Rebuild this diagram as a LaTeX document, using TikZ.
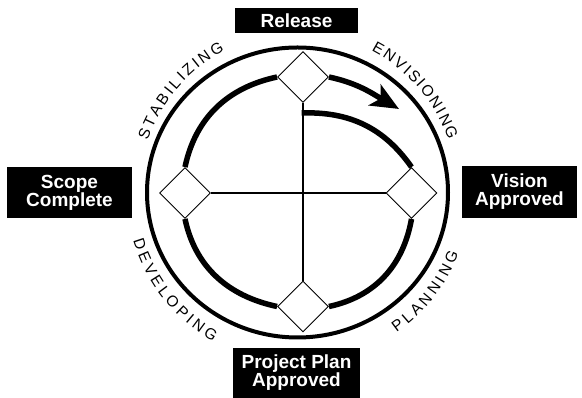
\documentclass[tikz,border=0pt]{standalone}
\usepackage{fontspec}
\setmainfont{Liberation Sans}
\usepackage{tikz}
\usetikzlibrary{arrows.meta,positioning,shapes.geometric,backgrounds,decorations.text}
\newcommand{\phasefont}{\fontsize{15.5}{15.5}\selectfont}

\begin{document}
\begin{tikzpicture}[x=1pt, y=1pt,
    milestone/.style={diamond, draw=black, line width=0.9pt, fill=white, aspect=1,
                      minimum width=51pt, minimum height=51pt, inner sep=0pt},
    tag/.style={rectangle, fill=black, text=white, inner sep=0pt, align=center,
                font=\bfseries\fontsize{19}{18}\selectfont},
    ring/.style={line width=5.5pt},
    axis/.style={line width=2.8pt},
    phase/.style={decorate, decoration={text along path, text align={fit to path},
                  text={|\phasefont|#1}}}]

    \useasboundingbox (0,0) rectangle (582,398);
    \coordinate (hub) at (298,206);

    %% Milestones
    \node[milestone] (msRelease) at (303,321)   {};
    \node[milestone] (msVision)  at (411.5,205) {};
    \node[milestone] (msPlan)    at (303,91.5)  {};
    \node[milestone] (msScope)   at (185,205)   {};

    %% Outer cycle
    \draw[line width=4pt] (297.5,205.5) ellipse [x radius=150.5, y radius=145];

    %% Cross
    \draw[axis] (msRelease.south) -- (msPlan.north);
    \draw[axis] (msScope.east) -- (msVision.west);

    %% Spiral (behind the diamonds)
    \coordinate (spiralStart) at (301.6,285);
    \coordinate (arrowTip) at (399,289);
    \begin{scope}[on background layer]
      \draw[ring] (spiralStart) to[out=2, in=125] (msVision.north);
      \draw[ring] (msPlan.east) to[out=12, in=-100] (msVision.south);
      \draw[ring] (msScope.south) to[out=-78, in=168] (msPlan.west);
      \draw[ring] (msScope.north) to[out=78, in=192] (msRelease.west);
      \draw[ring, -{Stealth[length=28pt, width=24pt, inset=7pt]}]
        (msRelease.east) to[out=-12, in=150] (arrowTip);
    \end{scope}

    %% Milestone labels
    \node[tag, minimum width=123pt, minimum height=25pt] (lblRelease) at (296.5,377.5) {Release};
    \node[tag, minimum width=125pt, minimum height=51pt] (lblScope) at (69.5,205.5) {Scope\\Complete};
    \node[tag, minimum width=115pt, minimum height=52pt] (lblVision) at (519.5,206) {Vision\\Approved};
    \node[tag, minimum width=127pt, minimum height=50pt] (lblPlan) at (296.5,25) {Project Plan\\Approved};

    %% Phase names
    \path[phase=ENVISIONING] ([shift={(hub)}]62.5:159) arc[start angle=62.5, end angle=19, radius=159];
    \path[phase=STABILIZING] ([shift={(hub)}]161:159) arc[start angle=161, end angle=117.5, radius=159];
    \path[phase=DEVELOPING] ([shift={(hub)}]196.5:172) arc[start angle=196.5, end angle=240.5, radius=172];
    \path[phase=PLANNING] ([shift={(hub)}]-55:172) arc[start angle=-55, end angle=-21, radius=172];
\end{tikzpicture}
\end{document}
